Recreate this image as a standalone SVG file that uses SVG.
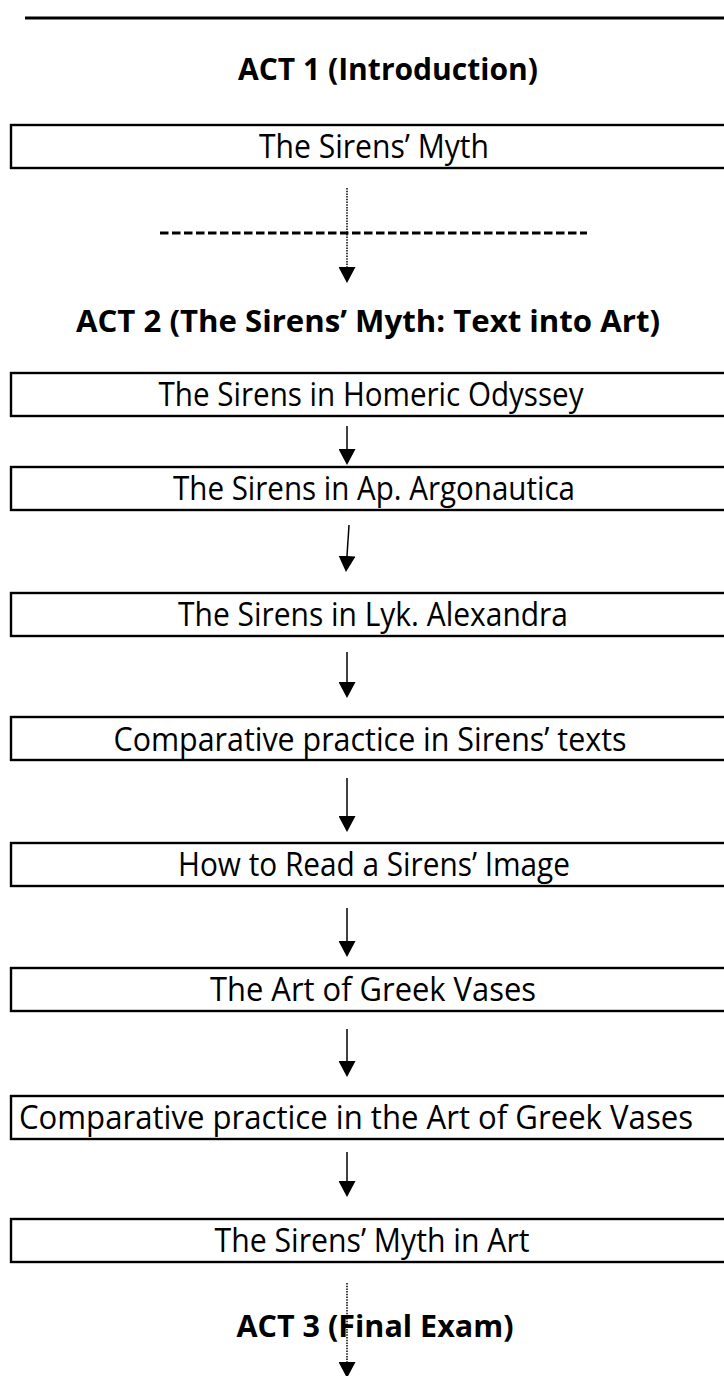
<svg xmlns="http://www.w3.org/2000/svg" width="724" height="1376" viewBox="0 0 724 1376">
  <style>
    .box { fill: #ffffff; stroke: #000000; stroke-width: 2.4; }
    .lbl { font-family: "Open Sans", "DejaVu Sans", sans-serif; font-size: 32px; fill: #000000; text-anchor: middle; }
    .act { font-family: "Open Sans", "DejaVu Sans", sans-serif; font-size: 30px; font-weight: bold; fill: #000000; text-anchor: middle; }
    .solid { stroke: #000000; stroke-width: 1.5; fill: none; }
    .dotted { stroke: #000000; stroke-width: 1.5; stroke-dasharray: 1.5 1.2; fill: none; }
  </style>
  <defs>
    <marker id="head" markerUnits="userSpaceOnUse" markerWidth="16" markerHeight="17" refX="0" refY="8.5" orient="auto">
      <path d="M0,0 L16,8.5 L0,17 Z" fill="#000000"/>
    </marker>
  </defs>
  <rect width="724" height="1376" fill="#ffffff"/>

  <g id="top-rule">
    <line x1="25" y1="18" x2="724" y2="18" stroke="#000000" stroke-width="2.8"/>
  </g>

  <g id="act1">
    <text class="act" x="388" y="80" textLength="300" lengthAdjust="spacingAndGlyphs">ACT 1 (Introduction)</text>
  </g>

  <g id="n1">
    <rect class="box" x="11" y="125" width="740" height="43"/>
    <text class="lbl" x="374" y="158" textLength="230" lengthAdjust="spacingAndGlyphs">The Sirens’ Myth</text>
  </g>

  <g id="separator">
    <line x1="160" y1="233" x2="587" y2="233" stroke="#000000" stroke-width="3" stroke-dasharray="8.5 3.5"/>
  </g>

  <g id="act2">
    <text class="act" x="368" y="332" textLength="584" lengthAdjust="spacingAndGlyphs">ACT 2 (The Sirens’ Myth: Text into Art)</text>
  </g>

  <g id="n2">
    <rect class="box" x="11" y="373" width="740" height="43"/>
    <text class="lbl" x="371" y="406" textLength="425" lengthAdjust="spacingAndGlyphs">The Sirens in Homeric Odyssey</text>
  </g>

  <g id="n3">
    <rect class="box" x="11" y="467" width="740" height="43"/>
    <text class="lbl" x="374" y="500" textLength="402" lengthAdjust="spacingAndGlyphs">The Sirens in Ap. Argonautica</text>
  </g>

  <g id="n4">
    <rect class="box" x="11" y="593" width="740" height="43"/>
    <text class="lbl" x="373" y="626" textLength="390" lengthAdjust="spacingAndGlyphs">The Sirens in Lyk. Alexandra</text>
  </g>

  <g id="n5">
    <rect class="box" x="11" y="717" width="740" height="43"/>
    <text class="lbl" x="370" y="751" textLength="513" lengthAdjust="spacingAndGlyphs">Comparative practice in Sirens’ texts</text>
  </g>

  <g id="n6">
    <rect class="box" x="11" y="843" width="740" height="43"/>
    <text class="lbl" x="374" y="876" textLength="392" lengthAdjust="spacingAndGlyphs">How to Read a Sirens’ Image</text>
  </g>

  <g id="n7">
    <rect class="box" x="11" y="968" width="740" height="43"/>
    <text class="lbl" x="373" y="1001" textLength="326" lengthAdjust="spacingAndGlyphs">The Art of Greek Vases</text>
  </g>

  <g id="n8">
    <rect class="box" x="11" y="1096" width="740" height="43"/>
    <text class="lbl" x="356" y="1129" textLength="674" lengthAdjust="spacingAndGlyphs">Comparative practice in the Art of Greek Vases</text>
  </g>

  <g id="n9">
    <rect class="box" x="11" y="1219" width="740" height="43"/>
    <text class="lbl" x="372" y="1252" textLength="315" lengthAdjust="spacingAndGlyphs">The Sirens’ Myth in Art</text>
  </g>

  <g id="act3">
    <text class="act" x="375" y="1337" textLength="277" lengthAdjust="spacingAndGlyphs">ACT 3 (Final Exam)</text>
  </g>

  <g id="connectors">
    <line class="dotted" x1="347" y1="188" x2="347" y2="267" marker-end="url(#head)"/>
    <line class="solid" x1="347" y1="426" x2="347" y2="449" marker-end="url(#head)"/>
    <line class="solid" x1="349" y1="525" x2="347" y2="556" marker-end="url(#head)"/>
    <line class="solid" x1="347" y1="652" x2="347" y2="682" marker-end="url(#head)"/>
    <line class="solid" x1="347" y1="778" x2="347" y2="816" marker-end="url(#head)"/>
    <line class="solid" x1="347" y1="908" x2="347" y2="941" marker-end="url(#head)"/>
    <line class="solid" x1="347" y1="1029" x2="347" y2="1061" marker-end="url(#head)"/>
    <line class="solid" x1="347" y1="1152" x2="347" y2="1181" marker-end="url(#head)"/>
    <line class="dotted" x1="347" y1="1283" x2="347" y2="1362" marker-end="url(#head)"/>
  </g>
</svg>
